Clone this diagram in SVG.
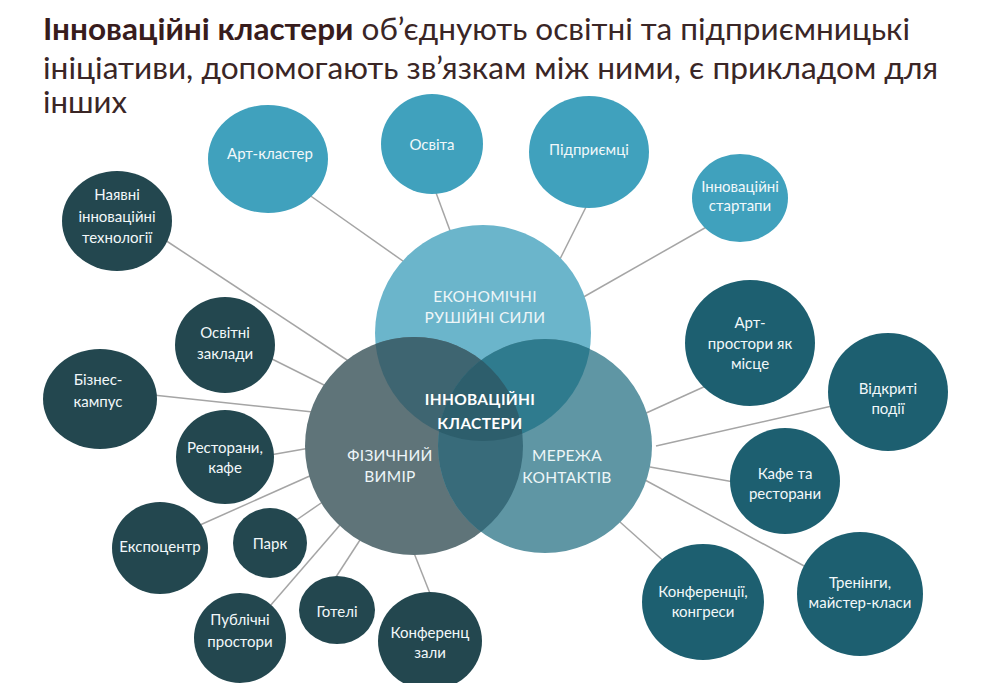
<svg xmlns="http://www.w3.org/2000/svg" width="996" height="683" viewBox="0 0 996 683">
<style>
.ln{stroke:#a5a5a5;stroke-width:1.5;fill:none}
.t{font-family:Lato,"Noto Sans",sans-serif;font-size:15px;fill:#f2f8fa;text-anchor:middle}
.big{font-family:Lato,"Noto Sans",sans-serif;font-size:15.5px;fill:#eef6f8;text-anchor:middle;letter-spacing:0.3px}
.ctr{font-weight:bold;fill:#ffffff}
.top{fill:#40a1bd}
.dk{fill:#23474f}
.rt{fill:#1d5f70}
.title{font-family:Lato,"Noto Sans",sans-serif;font-size:30px;fill:#3a2626}
</style>
<defs>
<clipPath id="cT"><circle cx="483" cy="333" r="108"/></clipPath>
<clipPath id="cL"><circle cx="414" cy="446" r="109"/></clipPath>
</defs>
<rect width="996" height="683" fill="#ffffff"/>
<g id="title">
<text class="title" x="43" y="40" textLength="867" lengthAdjust="spacingAndGlyphs"><tspan font-weight="bold" fill="#381c1c">Інноваційні кластери</tspan> об’єднують освітні та підприємницькі</text>
<text class="title" x="43" y="79" textLength="895" lengthAdjust="spacingAndGlyphs">ініціативи, допомогають зв’язкам між ними, є прикладом для</text>
<text class="title" x="43" y="113" textLength="84" lengthAdjust="spacingAndGlyphs">інших</text>
</g>
<g id="connectors">
<line class="ln" x1="305" y1="192" x2="410" y2="266"/>
<line class="ln" x1="435" y1="190" x2="452" y2="236"/>
<line class="ln" x1="588" y1="203" x2="558" y2="263"/>
<line class="ln" x1="710" y1="225" x2="580" y2="299"/>
<line class="ln" x1="165" y1="240" x2="350" y2="362"/>
<line class="ln" x1="268" y1="357" x2="328" y2="387"/>
<line class="ln" x1="153" y1="395" x2="313" y2="412"/>
<line class="ln" x1="270" y1="455" x2="310" y2="448"/>
<line class="ln" x1="200" y1="525" x2="312" y2="475"/>
<line class="ln" x1="295" y1="521" x2="324" y2="501"/>
<line class="ln" x1="270" y1="606" x2="340" y2="525"/>
<line class="ln" x1="334" y1="580" x2="360" y2="540"/>
<line class="ln" x1="431" y1="596" x2="414" y2="553"/>
<line class="ln" x1="708" y1="385" x2="644" y2="414"/>
<line class="ln" x1="832" y1="406" x2="656" y2="446"/>
<line class="ln" x1="734" y1="482" x2="650" y2="467"/>
<line class="ln" x1="806" y1="567" x2="645" y2="480"/>
<line class="ln" x1="667" y1="564" x2="620" y2="522"/>
</g>
<g id="venn">
<circle cx="483" cy="333" r="108" fill="#6bb5cb"/>
<circle cx="414" cy="446" r="109" fill="#5f7479"/>
<circle cx="545" cy="446" r="107" fill="#5f96a4"/>
<circle cx="414" cy="446" r="109" fill="#3e6571" clip-path="url(#cT)"/>
<circle cx="545" cy="446" r="107" fill="#2f7b8e" clip-path="url(#cT)"/>
<circle cx="545" cy="446" r="107" fill="#386b7a" clip-path="url(#cL)"/>
<g clip-path="url(#cT)"><circle cx="545" cy="446" r="107" fill="#2d5e6c" clip-path="url(#cL)"/></g>
</g>
<g id="n-econ"><text class="big" x="485" y="302">ЕКОНОМІЧНІ</text><text class="big" x="485" y="323">РУШІЙНІ СИЛИ</text></g>
<g id="n-center"><text class="big ctr" x="480" y="405">ІННОВАЦІЙНІ</text><text class="big ctr" x="480" y="429">КЛАСТЕРИ</text></g>
<g id="n-phys"><text class="big" x="390" y="461">ФІЗИЧНИЙ</text><text class="big" x="390" y="482">ВИМІР</text></g>
<g id="n-net"><text class="big" x="567" y="461">МЕРЕЖА</text><text class="big" x="567" y="483">КОНТАКТІВ</text></g>

<g id="n-artcluster"><ellipse class="top" cx="268" cy="159" rx="60" ry="54"/><text class="t" x="270" y="159">Арт-кластер</text></g>
<g id="n-osvita"><ellipse class="top" cx="432" cy="144" rx="51" ry="50"/><text class="t" x="432" y="150">Освіта</text></g>
<g id="n-pidpr"><ellipse class="top" cx="589" cy="152" rx="60" ry="56"/><text class="t" x="589" y="155">Підприємці</text></g>
<g id="n-startups"><ellipse class="top" cx="740" cy="198" rx="48" ry="44"/><text class="t" x="740" y="192" font-size="14.5">Інноваційні</text><text class="t" x="740" y="211" font-size="14.5">стартапи</text></g>

<g id="n-nayavni"><ellipse class="dk" cx="117" cy="221" rx="55" ry="50"/><text class="t" x="117" y="200">Наявні</text><text class="t" x="117" y="222">інноваційні</text><text class="t" x="117" y="243">технології</text></g>
<g id="n-osvitni"><ellipse class="dk" cx="225" cy="345" rx="50" ry="48"/><text class="t" x="225" y="338">Освітні</text><text class="t" x="225" y="359">заклади</text></g>
<g id="n-biznes"><ellipse class="dk" cx="100" cy="399" rx="57" ry="50"/><text class="t" x="98" y="385">Бізнес-</text><text class="t" x="98" y="407">кампус</text></g>
<g id="n-restorany"><ellipse class="dk" cx="225" cy="457" rx="49" ry="47"/><text class="t" x="225" y="453">Ресторани,</text><text class="t" x="225" y="473">кафе</text></g>
<g id="n-expo"><ellipse class="dk" cx="160" cy="548" rx="48" ry="46"/><text class="t" x="160" y="552">Експоцентр</text></g>
<g id="n-park"><ellipse class="dk" cx="270" cy="543" rx="37" ry="35"/><text class="t" x="270" y="549">Парк</text></g>
<g id="n-publichni"><ellipse class="dk" cx="240" cy="638" rx="46" ry="45"/><text class="t" x="240" y="625">Публічні</text><text class="t" x="240" y="647">простори</text></g>
<g id="n-hoteli"><ellipse class="dk" cx="337" cy="610" rx="38" ry="34"/><text class="t" x="337" y="617">Готелі</text></g>
<g id="n-konfzaly"><ellipse class="dk" cx="430" cy="641" rx="52" ry="49"/><text class="t" x="430" y="638">Конференц</text><text class="t" x="430" y="658">зали</text></g>

<g id="n-artprostory"><ellipse class="rt" cx="750" cy="343" rx="65" ry="63"/><text class="t" x="750" y="328">Арт-</text><text class="t" x="750" y="349">простори як</text><text class="t" x="750" y="369">місце</text></g>
<g id="n-vidkryti"><ellipse class="rt" cx="888" cy="392" rx="60" ry="59"/><text class="t" x="888" y="394">Відкриті</text><text class="t" x="888" y="414">події</text></g>
<g id="n-kafe"><ellipse class="rt" cx="785" cy="481" rx="55" ry="53"/><text class="t" x="785" y="479">Кафе та</text><text class="t" x="785" y="499">ресторани</text></g>
<g id="n-konf"><ellipse class="rt" cx="703" cy="602" rx="61" ry="58"/><text class="t" x="703" y="597">Конференції,</text><text class="t" x="703" y="617">конгреси</text></g>
<g id="n-treningy"><ellipse class="rt" cx="860" cy="594" rx="63" ry="62"/><text class="t" x="860" y="588">Тренінги,</text><text class="t" x="860" y="608">майстер-класи</text></g>
</svg>
